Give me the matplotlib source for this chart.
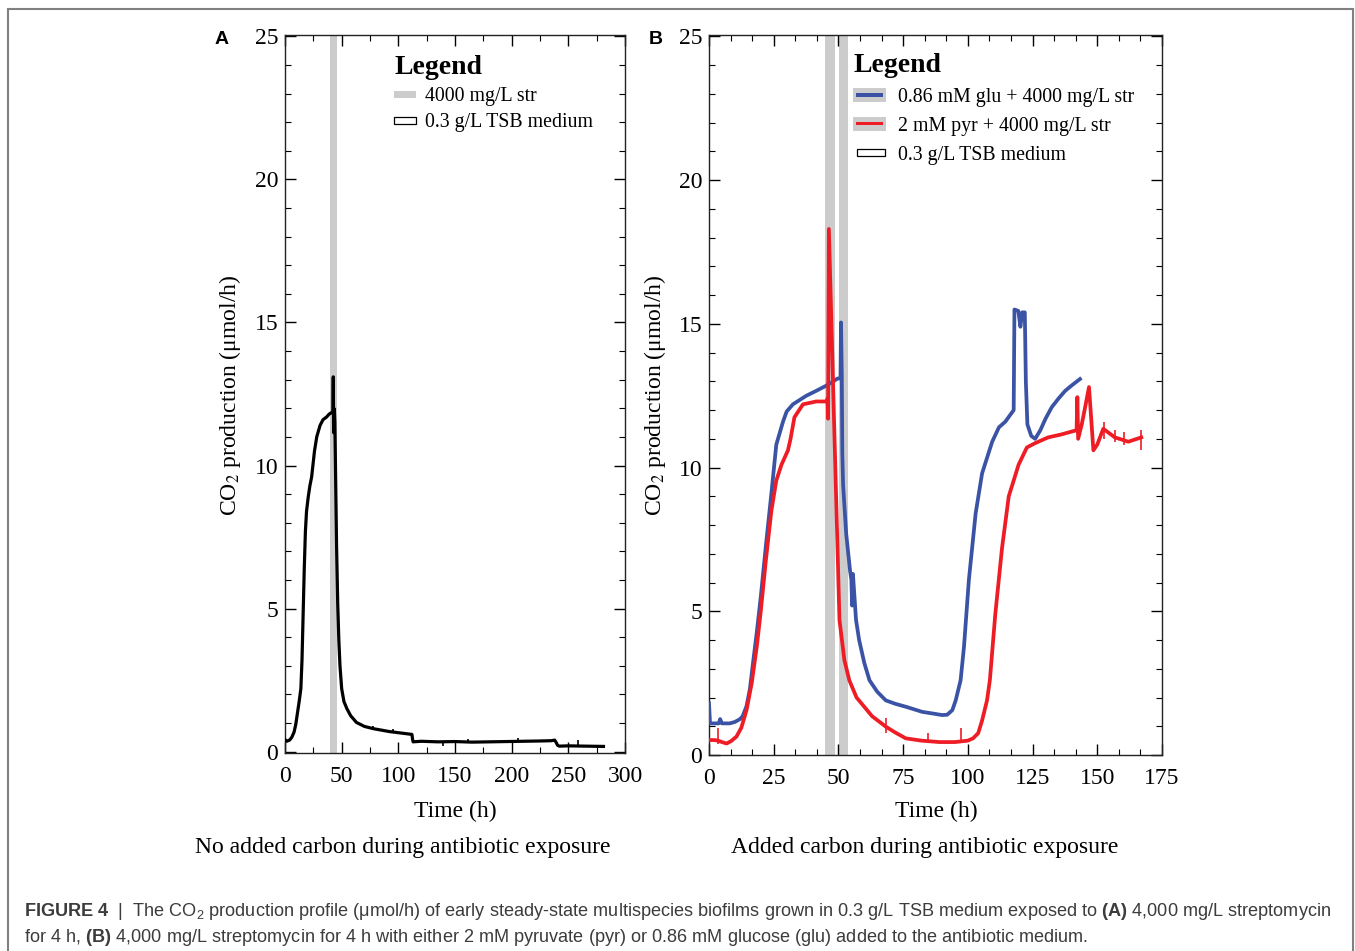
import matplotlib
matplotlib.use("Agg")
import matplotlib.pyplot as plt
from matplotlib import font_manager
from matplotlib.patches import Patch, Rectangle
from matplotlib.lines import Line2D
from matplotlib.legend_handler import HandlerPatch, HandlerTuple
from matplotlib.ticker import MultipleLocator, AutoMinorLocator

# ---------------- data ----------------
a_time = [0, 1.5, 4, 6, 8, 9.5, 11, 12.5, 14, 15,
          16, 17, 18, 19, 20.5, 22, 23.5, 26, 28, 30.9,
          33.5, 36.8, 39, 41.2, 42.3, 42.6, 42.9, 43.2, 43.6, 44.0,
          44.7, 45.5, 46.5, 47.5, 48.5, 50, 52, 54.6, 58, 63,
          70, 78, 85, 92, 100, 106, 112, 112.5, 113, 120,
          135, 150, 165, 180, 195, 210, 225, 235, 238, 239.5,
          240.5, 242, 250, 265, 281]
a_co2 = [0.42, 0.36, 0.40, 0.50, 0.68, 0.95, 1.35, 1.75, 2.2, 3.2,
         4.8, 6.4, 7.7, 8.4, 8.9, 9.3, 9.6, 10.5, 11.0, 11.4,
         11.6, 11.7, 11.8, 11.85, 11.9, 13.1, 11.15, 12.0, 11.9, 11.5,
         9.5, 7.2, 5.2, 3.9, 3.0, 2.2, 1.75, 1.5, 1.25, 1.02,
         0.88, 0.80, 0.75, 0.70, 0.66, 0.63, 0.60, 0.45, 0.34, 0.36,
         0.34, 0.35, 0.33, 0.34, 0.35, 0.36, 0.37, 0.38, 0.40, 0.30,
         0.22, 0.19, 0.20, 0.19, 0.18]
a_spike_time = [77.9, 95.6, 139.7, 161.8, 205.9, 258.8]
a_spike_low = [0.80, 0.66, 0.19, 0.34, 0.36, 0.19]
a_spike_high = [0.91, 0.80, 0.35, 0.44, 0.47, 0.41]

b_glu_time = [0, 0.4, 2, 3.8, 4.3, 5, 8, 10, 12, 13,
              14.5, 15.8, 17, 18.5, 20, 22, 24.1, 26, 28.6, 30,
              32.4, 35, 37.6, 41, 45.3, 48, 49.7, 50.8, 51.0, 51.3,
              51.5, 51.8, 53, 54.5, 55.0, 55.3, 55.6, 56.8, 58, 60,
              62, 65, 68.3, 72, 76, 82.4, 86, 90, 92, 94,
              95.3, 97.2, 98.5, 100.4, 103, 105.5, 109.4, 112, 114.5, 117.7,
              118.0, 119.5, 120.3, 121.0, 122.0, 122.4, 123, 124.5, 126, 128,
              130, 132.4, 135, 137.6, 140, 143.3]
b_glu_co2 = [1.8, 1.1, 1.1, 1.1, 1.25, 1.1, 1.1, 1.15, 1.25, 1.35,
             1.7, 2.3, 3.2, 4.3, 5.5, 7.3, 9.1, 10.8, 11.6, 11.95,
             12.2, 12.35, 12.5, 12.65, 12.85, 13.0, 13.1, 13.1, 15.05, 13.2,
             10.5, 9.4, 7.7, 6.4, 6.1, 5.2, 6.3, 4.7, 4.0, 3.2,
             2.6, 2.2, 1.9, 1.78, 1.68, 1.5, 1.45, 1.39, 1.4, 1.56,
             1.9, 2.6, 3.76, 6.1, 8.4, 9.8, 10.9, 11.4, 11.6, 12.0,
             15.5, 15.45, 14.9, 15.4, 15.4, 13.0, 11.5, 11.1, 11.0, 11.3,
             11.7, 12.1, 12.4, 12.67, 12.85, 13.08]

b_pyr_time = [0, 2, 3.5, 5, 6.8, 8.5, 10.6, 12.5, 14.5, 16.5,
              18.5, 20, 22, 24.1, 26, 28, 30.5, 31.5, 33, 36.3,
              41.4, 45.3, 45.8, 46.0, 46.3, 50.4, 52.3, 54.2, 57, 59.4,
              63, 68.4, 72, 76, 82, 89, 95, 100, 102, 104,
              105.5, 107.4, 108.5, 110.6, 113.2, 115.8, 119.6, 122.8, 126, 131,
              136, 142, 142.3, 142.6, 144, 145.3, 146.8, 148.5, 150, 152.3,
              156.8, 162, 167]
b_pyr_co2 = [0.52, 0.52, 0.50, 0.45, 0.40, 0.48, 0.64, 0.95, 1.56, 2.5,
             3.8, 5.0, 6.8, 8.5, 9.55, 10.1, 10.6, 11.0, 11.75, 12.2,
             12.3, 12.3, 12.4, 11.7, 18.3, 4.7, 3.3, 2.6, 2.0, 1.74,
             1.35, 0.98, 0.78, 0.58, 0.50, 0.45, 0.45, 0.50, 0.58, 0.76,
             1.2, 1.9, 2.6, 4.9, 7.2, 9.0, 10.1, 10.7, 10.85, 11.05,
             11.15, 11.3, 12.45, 11.0, 11.5, 12.1, 12.8, 10.6, 10.8, 11.35,
             11.05, 10.9, 11.05]
b_pyr_spike_time = [3.6, 68.5, 84.5, 97.2, 152.6, 156.8, 160.5, 167]
b_pyr_spike_low = [0.40, 0.75, 0.45, 0.45, 11.0, 10.9, 10.8, 10.6]
b_pyr_spike_high = [0.93, 1.30, 0.75, 0.95, 11.6, 11.3, 11.25, 11.3]

a_exposure = [(40.0, 46.0)]
b_exposure = [(45.0, 48.6), (50.2, 53.7)]

a_xticks = [0, 50, 100, 150, 200, 250, 300]
b_xticks = [0, 25, 50, 75, 100, 125, 150, 175]
yticks = [0, 5, 10, 15, 20, 25]

a_legend_labels = ["4000 mg/L str", "0.3 g/L TSB medium"]
b_legend_labels = ["0.86 mM glu + 4000 mg/L str", "2 mM pyr + 4000 mg/L str", "0.3 g/L TSB medium"]
subtitles = ["No added carbon during antibiotic exposure", "Added carbon during antibiotic exposure"]
xlabel = "Time (h)"
ylabel = "CO$_2$ production (μmol/h)"
caption_lines = [
    r"$\mathbf{FIGURE\ 4}$  |  The CO$_2$ production profile (μmol/h) of early steady-state multispecies biofilms grown in 0.3 g/L TSB medium exposed to $\mathbf{(A)}$ 4,000 mg/L streptomycin",
    r"for 4 h, $\mathbf{(B)}$ 4,000 mg/L streptomycin for 4 h with either 2 mM pyruvate (pyr) or 0.86 mM glucose (glu) added to the antibiotic medium.",
]

# ---------------- style ----------------
BLUE = "#3a53a4"
RED = "#ee1c25"
GREY = "#cccccc"
SERIF = ["Liberation Serif", "DejaVu Serif"]


def have(name):
    try:
        font_manager.findfont(font_manager.FontProperties(family=name), fallback_to_default=False)
        return True
    except Exception:
        return False


CAP_FONT = "Liberation Sans Narrow" if have("Liberation Sans Narrow") else "Liberation Sans"
SANS = [CAP_FONT, "Liberation Sans", "DejaVu Sans"]

plt.rcParams["font.family"] = SERIF
plt.rcParams["mathtext.fontset"] = "custom"
plt.rcParams["mathtext.rm"] = CAP_FONT
plt.rcParams["mathtext.it"] = CAP_FONT + ":italic"
plt.rcParams["mathtext.bf"] = CAP_FONT + ":bold"

W, H = 1355, 951
fig = plt.figure(figsize=(W / 100, H / 100), dpi=100)


def fx(px):
    return px / W


def fy(py):
    return 1 - py / H


axA = fig.add_axes([fx(285), fy(753), fx(625) - fx(285), fy(35) - fy(753)])
axB = fig.add_axes([fx(709), fy(755), fx(1162) - fx(709), fy(35) - fy(755)])

# Panel A
for lo, hi in a_exposure:
    axA.axvspan(lo, hi, color=GREY, lw=0, zorder=0)
axA.plot(a_time, a_co2, color="black", lw=2.3, zorder=3, solid_joinstyle="round")
axA.vlines(a_spike_time, a_spike_low, a_spike_high, color="black", lw=1.2, zorder=3)
axA.set_xlim(0, 300)
axA.set_ylim(-0.05, 25.05)
axA.set_xticks(a_xticks)
axA.xaxis.set_minor_locator(MultipleLocator(25))

# Panel B
for lo, hi in b_exposure:
    axB.axvspan(lo, hi, color=GREY, lw=0, zorder=0)
axB.plot(b_glu_time, b_glu_co2, color=BLUE, lw=2.7, zorder=3, solid_joinstyle="round")
axB.plot(b_pyr_time, b_pyr_co2, color=RED, lw=2.7, zorder=4, solid_joinstyle="round")
axB.vlines(b_pyr_spike_time, b_pyr_spike_low, b_pyr_spike_high, color=RED, lw=1.2, zorder=4)
axB.set_xlim(0, 175)
axB.set_ylim(0, 25.05)
axB.set_xticks(b_xticks)
axB.xaxis.set_minor_locator(AutoMinorLocator(3))

for ax in (axA, axB):
    ax.set_yticks(yticks)
    ax.yaxis.set_minor_locator(MultipleLocator(1))
    ax.tick_params(which="both", direction="in", top=True, right=True, labelsize=17, colors="black")
    ax.tick_params(which="major", length=8, width=1.0, pad=5)
    ax.tick_params(axis="x", which="major", pad=9.5)
    ax.tick_params(which="minor", length=4, width=0.8)
    for s in ax.spines.values():
        s.set_linewidth(1.0)
        s.set_color("#222222")


def small_patch(wfrac, hfrac, xoff=0.0):
    def f(legend, orig_handle, xdescent, ydescent, width, height, fontsize):
        w = width * wfrac
        h = height * hfrac
        return Rectangle((-xdescent + xoff * width, -ydescent + (height - h) / 2), w, h)
    return f


def short_line(legend, orig_handle, xdescent, ydescent, width, height, fontsize):
    return Rectangle((-xdescent + 0.1 * width, -ydescent + height / 2 - 1.1), 0.8 * width, 2.2)


title_fp = {"weight": "bold", "size": 20, "family": SERIF}

legA = axA.legend(
    [Patch(facecolor=GREY, edgecolor="none"), Patch(facecolor="white", edgecolor="black", lw=0.9)],
    a_legend_labels,
    handler_map={Patch: HandlerPatch(patch_func=small_patch(1.0, 0.5))},
    title="Legend", title_fontproperties=title_fp, alignment="left",
    loc="upper left", bbox_to_anchor=(0.321, 0.972), borderpad=0, borderaxespad=0,
    frameon=False, fontsize=14.3, handlelength=1.1, handleheight=0.7,
    handletextpad=0.45, labelspacing=0.36,
)


class BarLine(Rectangle):
    pass


hB1 = (Patch(facecolor=GREY, edgecolor="none"), BarLine((0, 0), 1, 1, facecolor=BLUE, edgecolor="none"))
hB2 = (Patch(facecolor=GREY, edgecolor="none"), BarLine((0, 0), 1, 1, facecolor=RED, edgecolor="none"))
hB3 = Rectangle((0, 0), 1, 1, facecolor="white", edgecolor="black", lw=0.9)
legB = axB.legend(
    [hB1, hB2, hB3], b_legend_labels,
    handler_map={tuple: HandlerTuple(ndivide=1),
                 BarLine: HandlerPatch(patch_func=short_line),
                 Rectangle: HandlerPatch(patch_func=small_patch(0.86, 0.5, 0.12))},
    title="Legend", title_fontproperties=title_fp, alignment="left",
    loc="upper left", bbox_to_anchor=(0.318, 0.975), borderpad=0, borderaxespad=0,
    frameon=False, fontsize=14.3, handlelength=1.65, handleheight=0.7,
    handletextpad=0.6, labelspacing=0.5,
)

# axis texts
for cx, ylx, sx, sub in [(455, 230, 403, subtitles[0]), (936, 655, 925, subtitles[1])]:
    fig.text(fx(cx), fy(811), xlabel, ha="center", va="center", fontsize=17)
    fig.text(fx(sx), fy(847), sub, ha="center", va="center", fontsize=17)
    fig.text(fx(ylx), fy(395), ylabel, ha="center", va="center", rotation=90,
             fontsize=17, math_fontfamily="stix")

fig.text(fx(222), fy(40), "A", family=["Liberation Sans", "DejaVu Sans"], weight="bold",
         fontsize=14, ha="center", va="center")
fig.text(fx(656), fy(40), "B", family=["Liberation Sans", "DejaVu Sans"], weight="bold",
         fontsize=14, ha="center", va="center")

# caption, fitted to the reference line width
renderer = fig.canvas.get_renderer()
probe = fig.text(fx(24), fy(916), caption_lines[0], family=SANS, fontsize=12, color="#3c3c3c")
wpx = probe.get_window_extent(renderer).width
cap_size = 12 * (1333 - 24) / wpx
probe.set_fontsize(cap_size)
fig.text(fx(24), fy(942), caption_lines[1], family=SANS, fontsize=cap_size, color="#3c3c3c")

# outer frame
fig.add_artist(Rectangle((fx(8), -0.02), fx(1353) - fx(8), fy(9) + 0.02,
                         transform=fig.transFigure, fill=False, edgecolor="#808080", lw=1.5))

fig.savefig("out.png", dpi=100)
